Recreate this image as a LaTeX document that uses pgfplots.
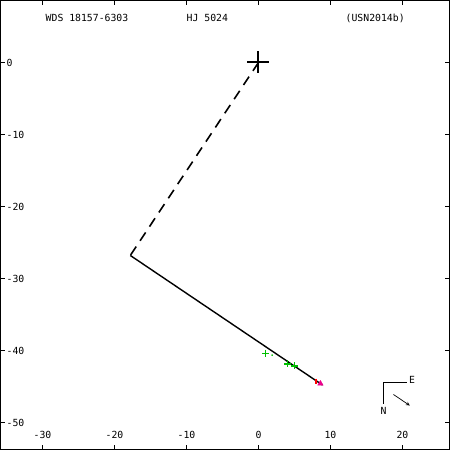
\documentclass[border=0pt]{standalone}
\usepackage{pgfplots}
\pgfplotsset{compat=1.18}
\usepackage{fontspec}
\setmainfont{DejaVu Sans Mono}
\definecolor{mgreen}{RGB}{0,190,0}
\begin{document}
\fontsize{9.8}{11}\selectfont
\begin{tikzpicture}
\begin{axis}[
  scale only axis, width=449pt, height=449pt,
  xmin=-35.83, xmax=26.53, ymin=-53.75, ymax=8.61,
  axis line style={line width=1pt},
  tick style={black, line width=0.8pt},
  major tick length=5pt,
  tick align=inside,
  xtick={-30,-20,-10,0,10,20},
  ytick={0,-10,-20,-30,-40,-50},
  /pgf/number format/assume math mode=true,
  xticklabel style={anchor=south, yshift=11pt, inner sep=0pt, font=\fontsize{9.8}{11}\selectfont},
  yticklabel style={anchor=west, xshift=6pt, inner sep=0pt, font=\fontsize{9.8}{11}\selectfont},
  clip=false,
]
% dashed line primary -> periastron/node
\addplot[black, line width=1.6pt, dash pattern=on 10pt off 7pt] coordinates {(0,0) (-17.8,-26.8)};
% solid orbit segment
\addplot[black, line width=1.4pt] coordinates {(-17.8,-26.8) (8.9,-44.8)};
% primary star
\addplot[only marks, mark=+, mark size=11pt, black, mark options={line width=2pt}] coordinates {(0,0)};
% measures
\addplot[only marks, mark=+, mark size=3.5pt, mgreen, mark options={line width=1.4pt}] coordinates {(0.97,-40.38) (4.07,-41.85) (5.0,-42.13)};
\addplot[only marks, mark=*, mark size=0.6pt, mgreen] coordinates {(1.9,-40.65)};
\addplot[only marks, mark=|, mark size=2.5pt, red, mark options={line width=1.2pt}] coordinates {(8.0,-44.25)};
\addplot[only marks, mark=triangle*, mark size=3.2pt, magenta] coordinates {(8.6,-44.6)};
% texts
\node[anchor=base west, inner sep=0pt] at (axis cs:-29.58,5.63) {WDS 18157-6303};
\node[anchor=base west, inner sep=0pt] at (axis cs:-10,5.63) {HJ 5024};
\node[anchor=base west, inner sep=0pt] at (axis cs:12.08,5.63) {(USN2014b)};
% orientation
\draw[black, line width=0.8pt] (axis cs:20.56,-44.4) -- (axis cs:17.36,-44.4) -- (axis cs:17.36,-47.5);
\node[anchor=north, inner sep=0pt] at (axis cs:17.36,-47.8) {N};
\node[anchor=west, inner sep=0pt] at (axis cs:20.9,-44.1) {E};
\draw[black, line width=0.7pt, -stealth] (axis cs:18.75,-46.11) -- (axis cs:21.01,-47.64);
\end{axis}
\end{tikzpicture}
\end{document}
